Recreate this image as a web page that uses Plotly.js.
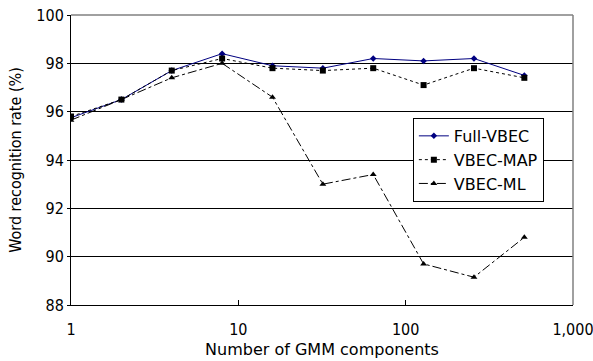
<!DOCTYPE html>
<html><head><meta charset="utf-8">
<script src="https://cdn.plot.ly/plotly-3.0.1.min.js"></script>
<style>body{margin:0;background:#fff}#c{width:593px;height:361px}</style>
</head><body><div id="c"></div>
<script>
const components = [1, 2, 4, 8, 16, 32, 64, 128, 256, 512];
const fullVBEC = [95.75, 96.5, 97.7, 98.4, 97.9, 97.8, 98.2, 98.1, 98.2, 97.5];
const vbecMAP = [95.8, 96.5, 97.7, 98.2, 97.8, 97.7, 97.8, 97.1, 97.8, 97.4];
const vbecML = [95.65, 96.5, 97.4, 98.0, 96.6, 93.0, 93.4, 89.7, 89.15, 90.8];
const xTickVals = [1, 10, 100, 1000];
const xTickText = ['1', '10', '100', '1,000'];
const yTickVals = [88, 90, 92, 94, 96, 98, 100];

const COND = 'DejaVu Sans Condensed, DejaVu Sans, sans-serif';
const WIDE = 'DejaVu Sans, sans-serif';
const traces = [
  {x: components, y: fullVBEC, name: 'Full-VBEC', mode: 'lines+markers',
   line: {color: '#000080', width: 1}, marker: {symbol: 'diamond', size: 5, color: '#000080'}},
  {x: components, y: vbecMAP, name: 'VBEC-MAP', mode: 'lines+markers',
   line: {color: '#000', width: 1, dash: 'dot'}, marker: {symbol: 'square', size: 6, color: '#000'}},
  {x: components, y: vbecML, name: 'VBEC-ML', mode: 'lines+markers',
   line: {color: '#000', width: 1, dash: 'dashdot'}, marker: {symbol: 'triangle-up', size: 6, color: '#000'}}
];
const layout = {
  width: 593, height: 361,
  margin: {l: 71, r: 20, t: 15, b: 56},
  paper_bgcolor: '#fff', plot_bgcolor: '#fff',
  font: {family: COND, size: 15, color: '#000'},
  showlegend: true,
  legend: {x: 0.681, y: 0.645, xanchor: 'left', yanchor: 'top',
    bordercolor: '#000', borderwidth: 1, bgcolor: '#fff',
    font: {family: WIDE, size: 16}, tracegroupgap: 0, itemwidth: 30},
  xaxis: {type: 'log', range: [0, 3.0001], tickvals: xTickVals, ticktext: xTickText,
    showgrid: false, zeroline: false, showline: true, linecolor: '#000', linewidth: 1,
    ticks: 'inside', ticklen: 5, tickcolor: '#000', mirror: false, ticklabelstandoff: 10,
    ticklabeloverflow: 'allow',
    tickfont: {family: COND, size: 16}, title: {text: 'Number of GMM components', font: {family: WIDE, size: 16}, standoff: 5}},
  yaxis: {range: [88, 100], tickvals: yTickVals, showgrid: true, gridcolor: '#000', gridwidth: 1,
    zeroline: false, showline: true, linecolor: '#000', linewidth: 1,
    ticks: 'outside', ticklen: 3, tickcolor: '#000',
    tickfont: {family: COND, size: 16}, title: {text: 'Word recognition rate (%)', font: {family: COND, size: 16}, standoff: 10}},
  shapes: [
    {type: 'line', xref: 'paper', yref: 'paper', x0: 0, x1: 1, y0: 1, y1: 1, line: {color: '#808080', width: 1.5}},
    {type: 'line', xref: 'paper', yref: 'paper', x0: 1, x1: 1, y0: 0, y1: 1, line: {color: '#808080', width: 1.5}}
  ]
};
Plotly.newPlot('c', traces, layout, {displayModeBar: false, staticPlot: true});
</script></body></html>
